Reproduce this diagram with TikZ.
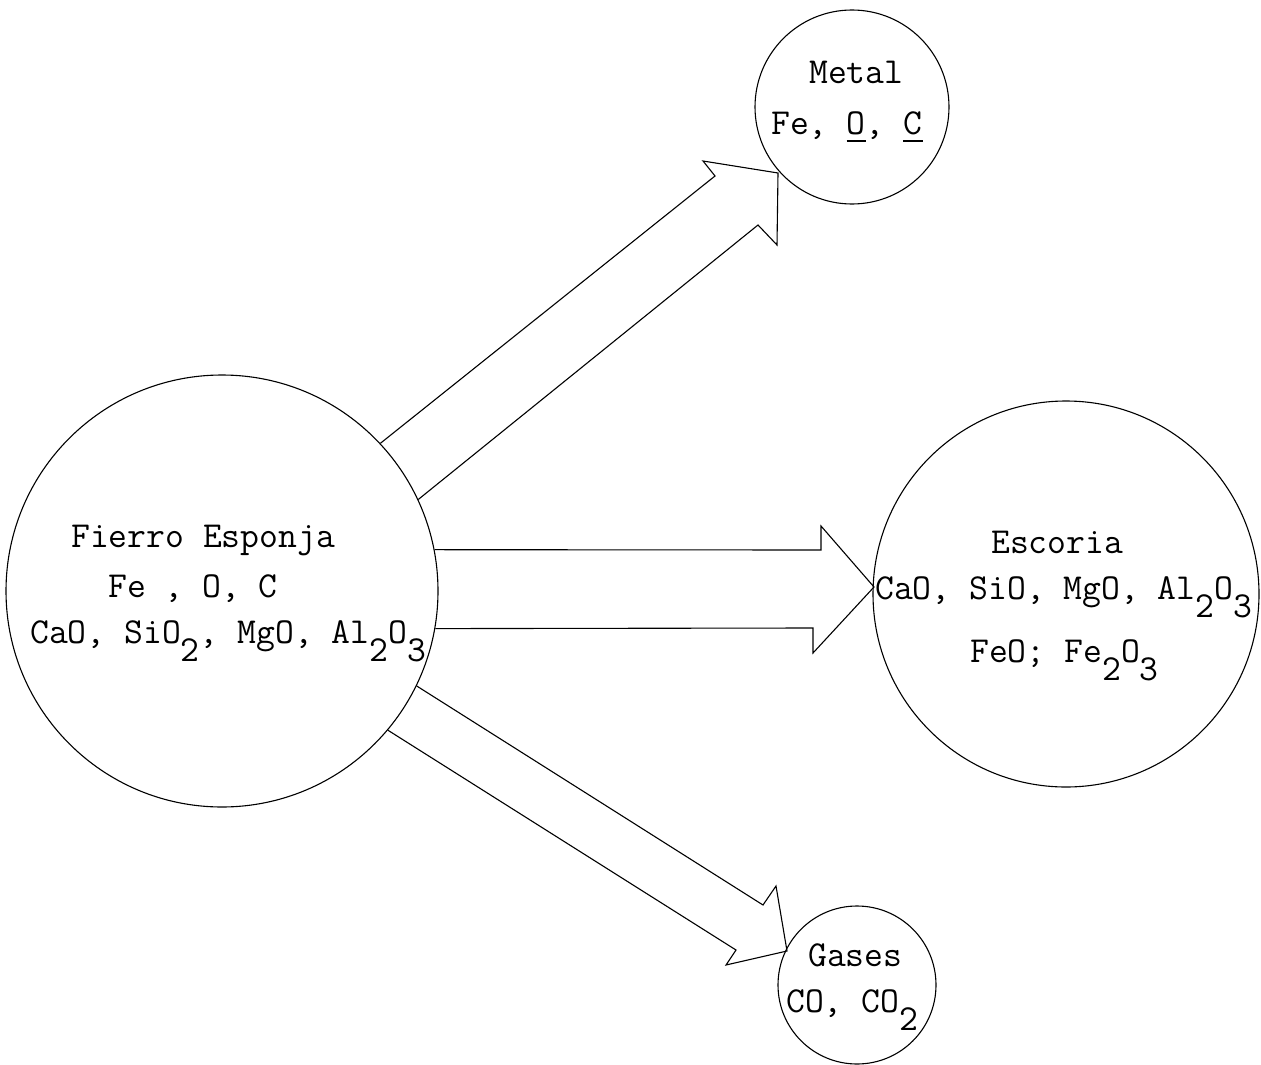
\documentclass[tikz,border=0pt]{standalone}
\usepackage{fontspec}
\newcommand\subdn[1]{\raisebox{-0.5em}{#1}}
\newcommand\ulc[1]{\rlap{\rule[-8pt]{0.54em}{2pt}}#1}
\begin{document}
\begin{tikzpicture}[x=1pt,y=-1pt,
  blob/.style={circle,draw,line width=1.1pt,inner sep=0pt},
  lbl/.style={anchor=base west,inner sep=0pt,font=\ttfamily\fontsize{36.6}{42}\selectfont},
  blockarrow/.style={line width=1.1pt,line join=miter}]
\useasboundingbox (0,0) rectangle (1261,1065);
% circles
\node[blob,minimum size=432pt] (fierro) at (222,591) {};
\node[blob,minimum size=194pt] (metal) at (852,107) {};
\node[blob,minimum size=386pt] (escoria) at (1066,594) {};
\node[blob,minimum size=158pt] (gases) at (857,985) {};
% texts
\node[lbl] (t1) at (71,547) {Fierro Esponja};
\node[lbl] (t2) at (108,597) {Fe , O, C};
\node[lbl] (t3) at (30,643) {CaO, SiO\subdn{2}, MgO, Al\subdn{2}O\subdn{3}};
\node[lbl] (m1) at (809,83) {Metal};
\node[lbl] (m2) at (771,134) {Fe, \ulc{O}, \ulc{C}};
\node[lbl] (e1) at (991,553) {Escoria};
\node[lbl] (e2) at (875,599) {CaO, SiO, MgO, Al\subdn{2}O\subdn{3}};
\node[lbl] (e3) at (970,662) {FeO; Fe\subdn{2}O\subdn{3}};
\node[lbl] (g1) at (808,966) {Gases};
\node[lbl] (g2) at (786,1012) {CO, CO\subdn{2}};
% block arrows
\coordinate (mtip) at (778,173);
\coordinate (etip) at (874,587);
\coordinate (gtip) at (787,951);
\draw[blockarrow] (fierro.43.7) -- (715,176) -- (703,161) -- (mtip) -- (777,245) -- (758,225) -- (fierro.25.6);
\draw[blockarrow] (fierro.11) -- (821,550) -- (821,526) -- (etip) -- (813,653) -- (813,628) -- (fierro.-10.3);
\draw[blockarrow] (fierro.-26.9) -- (763,905) -- (776,886) -- (gtip) -- (726,965) -- (736,950) -- (fierro.-40.3);
\end{tikzpicture}
\end{document}
